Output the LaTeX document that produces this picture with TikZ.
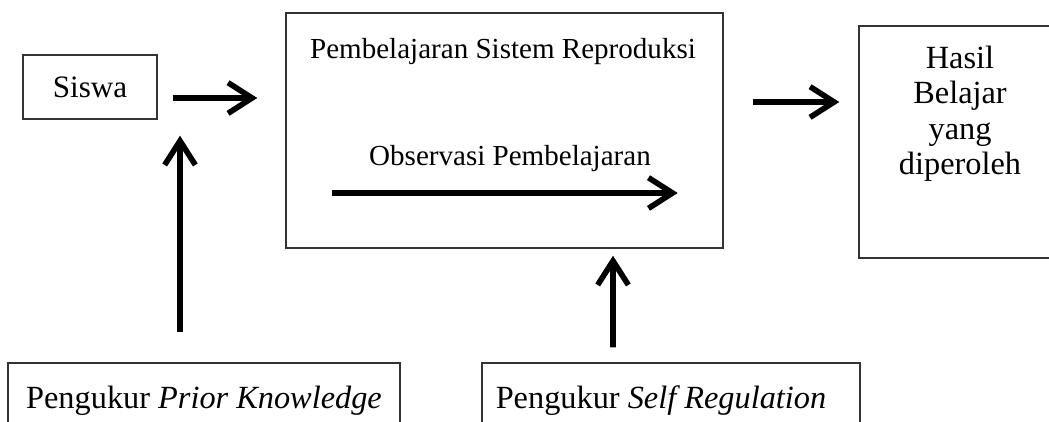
\documentclass[tikz,border=0pt]{standalone}
\usepackage{fontspec}
\setmainfont{Liberation Serif}
\usetikzlibrary{positioning,arrows.meta,calc}
\definecolor{ngaris}{HTML}{333333}

\begin{document}
\begin{tikzpicture}[x=0.015cm, y=-0.015cm,
  kotak/.style={draw=ngaris, line width=0.6pt, inner sep=0pt},
  panah/.style={-{Straight Barb[length=3.6mm, width=4.6mm]}, line width=2.4pt},
  teksbesar/.style={font=\fontsize{13.8}{15.2}\selectfont},
  font=\fontsize{12.4}{14.4}\selectfont]
 \useasboundingbox (0,0) rectangle (1049,421);
 \clip (0,0) rectangle (1049,421);
 \node[kotak, font=\fontsize{13.3}{14.4}\selectfont, minimum width=2.01cm, minimum height=0.96cm] (siswa) at (90,87) {Siswa};
 \node[kotak, minimum width=6.555cm, minimum height=3.525cm] (proses) at (504.5,130.5) {};
 \node[kotak, minimum width=3.03cm, minimum height=3.48cm] (hasil) at (960,142) {};
 \node[kotak, teksbesar, minimum width=5.88cm, minimum height=1.125cm] (ukurpk) at (204,400.5) {Pengukur \textit{Prior Knowledge}};
 \node[kotak, teksbesar, minimum width=5.67cm, minimum height=1.125cm] (ukursr) at (671,400.5) {\hspace{-0.3cm}Pengukur \textit{Self Regulation}};
 \node[anchor=base] (judul) at ($(proses.north)+(-1.5,46)$) {Pembelajaran Sistem Reproduksi};
 \node[anchor=base] (obs) at ($(proses.north)+(5.5,153)$) {Observasi Pembelajaran};
 \node[anchor=north, align=center, teksbesar] (hasilteks) at ($(hasil.north)+(0,12)$) {Hasil\\Belajar\\yang\\diperoleh};
 \draw[panah] ($(siswa.east)+(15,11)$) -- ($(proses.west)+(-28,-32.5)$);
 \draw[panah] ($(proses.west)+(47,62.5)$) -- ($(proses.east)+(-46,62.5)$);
 \draw[panah] ($(proses.east)+(29,-28.5)$) -- ($(hasil.west)+(-19,-40)$);
 \draw[panah] ($(ukurpk.north)+(-24,-30)$) -- ($(siswa.south)+(90,16)$);
 \draw[panah] ($(ukursr.north)+(-58,-15)$) -- ($(proses.south)+(108.5,7)$);
\end{tikzpicture}
\end{document}
